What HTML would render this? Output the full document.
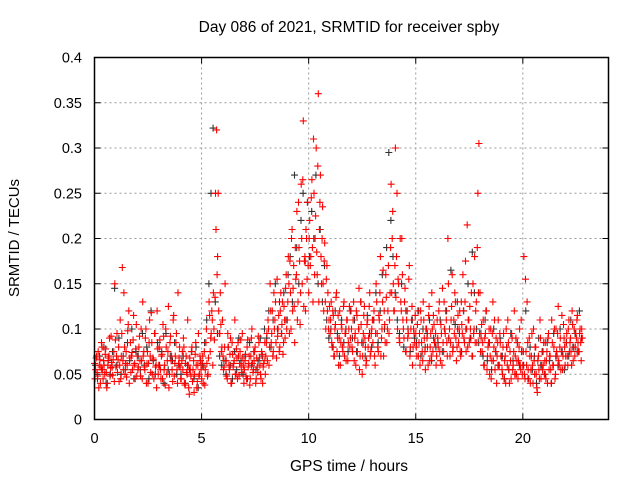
<!DOCTYPE html>
<html><head><meta charset="utf-8"><style>
body{margin:0;background:#fff}
svg{font-family:"Liberation Sans",sans-serif}
</style></head><body>
<svg id="c" width="640" height="480">
<rect width="640" height="480" fill="#fff"/>
<text x="349" y="32" font-size="15.5" text-anchor="middle">Day 086 of 2021, SRMTID for receiver spby</text>
<text x="349" y="471" font-size="15.5" text-anchor="middle">GPS time / hours</text>
<text transform="translate(19,238) rotate(-90)" font-size="15" text-anchor="middle">SRMTID / TECUs</text>
<g id="grid"></g><g id="ticks"></g><g id="marks"></g>
<rect x="94.5" y="57.5" width="514" height="362" fill="none" stroke="#000" stroke-width="1.5"/>
</svg>
<script>
const xTicks=[0,5,10,15,20];
const yTicks=[0,0.05,0.1,0.15,0.2,0.25,0.3,0.35,0.4];
const yTickLabels=["0","0.05","0.1","0.15","0.2","0.25","0.3","0.35","0.4"];
const startA=0,stepA=0.05;
const seriesA=[62,55,70,48,35,66,58,80,45,60,72,52,40,68,90,57,63,49,75,150,
58,95,66,42,110,70,168,55,80,62,47,98,120,68,52,74,88,60,45,105,
70,58,92,48,65,130,75,55,100,62,40,85,70,118,50,66,95,58,35,78,
60,88,45,72,105,55,38,80,65,125,50,92,70,42,115,62,85,55,140,68,
58,45,75,90,40,62,52,110,35,68,48,80,55,30,72,60,42,95,50,65,
45,70,58,38,85,62,50,130,75,95,110,140,88,250,320,180,120,95,105,80,
70,58,150,65,45,80,55,90,40,72,62,110,50,68,85,48,75,58,95,60,
55,72,45,88,62,38,70,100,52,65,80,45,58,92,68,50,75,40,62,85,
70,95,110,60,150,85,120,75,100,130,68,92,115,80,140,105,72,125,90,160,
110,180,95,140,200,120,170,85,155,230,130,190,105,260,150,330,175,120,200,240,
140,220,180,265,130,250,200,300,160,360,210,270,150,235,120,195,100,170,140,110,
95,130,80,115,70,105,140,90,60,120,85,100,75,130,95,65,110,85,125,90,
100,75,130,90,60,115,85,145,70,105,50,95,125,80,65,110,90,140,75,100,
85,120,60,150,95,75,110,180,90,130,70,105,160,85,120,95,140,260,200,150,
120,300,180,100,150,85,130,200,110,90,145,75,120,95,170,80,110,60,100,85,
95,70,120,85,60,110,75,130,90,55,100,80,115,65,95,140,75,105,85,60,
110,80,130,65,95,145,75,100,120,85,200,90,70,110,160,80,95,130,65,100,
85,120,70,105,160,90,130,75,215,110,85,100,140,70,95,180,120,85,250,305,
140,90,75,110,60,95,120,70,85,50,100,65,130,80,55,90,70,110,60,85,
70,50,95,65,40,80,110,55,75,45,90,60,120,70,50,85,65,100,55,75,
60,180,45,75,130,55,90,40,70,60,100,50,80,35,65,55,110,45,75,60,
50,85,65,40,95,70,55,110,60,80,45,100,70,125,60,90,75,55,105,80,
70,95,60,110,85,75,120,65,100,80,90,115,75,95,85,100];
const startB=0.025,stepB=0.05;
const seriesB=[45,68,52,75,60,40,85,55,65,50,78,35,60,70,48,92,58,66,42,88,
70,52,80,60,45,95,65,140,50,75,60,105,40,85,70,55,115,62,78,48,
55,80,65,100,45,70,58,90,40,75,62,110,52,85,68,45,95,60,120,50,
80,55,70,45,92,60,100,50,75,35,85,65,55,110,48,70,95,40,62,80,
45,65,55,80,38,70,50,60,28,55,75,42,65,50,85,35,60,48,70,55,
62,40,75,55,100,48,68,115,90,120,60,100,135,210,160,250,95,140,75,110,
55,80,65,48,95,60,72,40,85,58,65,50,78,45,70,62,88,52,68,40,
65,48,80,58,70,45,90,62,55,75,40,68,52,85,60,45,72,58,65,50,
85,65,100,80,120,95,70,140,110,85,155,100,75,120,95,130,85,110,145,100,
130,150,175,100,210,145,125,190,160,110,240,175,140,200,265,125,180,210,155,170,
200,170,245,190,310,160,225,185,280,130,240,180,200,150,175,130,155,120,100,125,
110,85,120,70,100,135,75,115,90,60,105,80,125,70,95,110,65,100,80,120,
80,110,65,95,120,75,100,55,130,85,70,115,90,60,105,80,125,70,95,110,
110,70,95,130,80,115,140,70,100,165,120,85,135,100,170,110,190,140,230,120,
170,135,250,155,90,200,120,160,100,130,75,110,90,155,70,100,125,80,95,115,
80,105,70,95,120,85,65,110,75,100,90,60,125,80,70,100,115,85,95,70,
90,120,75,105,60,85,130,95,110,70,150,100,85,125,75,110,140,90,80,115,
100,75,130,95,120,85,175,100,80,110,125,90,70,150,100,85,130,190,140,95,
75,105,85,60,90,120,55,80,100,70,45,95,65,110,75,40,85,60,95,70,
55,80,45,70,100,60,85,40,65,95,55,75,50,90,65,45,80,60,110,50,
75,50,155,60,85,45,70,55,95,40,65,80,50,30,70,45,90,60,55,85,
65,45,75,90,55,70,40,85,60,100,50,75,95,65,80,55,115,70,90,60,
85,70,100,75,90,60,105,80,70,95,110,85,75,100,65,90];
const startG=0.04,stepG=0.1;
const seriesG=[60,45,70,55,80,40,65,50,75,145,60,90,50,70,55,85,65,100,45,75,
70,55,95,60,80,45,120,65,50,85,60,75,40,95,55,70,65,85,50,60,
50,70,40,60,55,75,45,80,35,65,60,85,110,150,250,322,130,95,70,60,
65,50,80,60,45,75,55,90,65,50,70,45,85,60,75,55,65,90,70,100,
90,120,80,110,150,100,130,95,140,110,160,180,130,270,190,150,220,250,175,240,
180,230,200,270,150,210,130,170,110,90,100,80,120,95,70,110,85,100,75,120,
90,110,75,100,130,85,70,115,95,80,110,140,85,120,160,100,190,295,220,180,
140,110,95,150,80,120,100,75,110,90,85,120,70,100,80,95,110,65,90,80,
85,110,75,100,120,90,165,80,105,130,95,75,120,100,150,90,185,140,100,85,
95,70,110,65,85,55,100,75,60,90,70,45,80,55,95,65,50,85,60,75,
60,120,45,80,55,70,40,90,60,75,50,85,65,40,95,70,60,100,75,55,
85,70,110,80,95,75,120,90];
const X0=94.5,X1=608.5,Y0=419.5,Y1=57.5;
const xs=v=>X0+(v/24)*(X1-X0);
const ys=v=>Y0-(v/0.4)*(Y0-Y1);
const NS="http://www.w3.org/2000/svg";
function mk(t,a){const e=document.createElementNS(NS,t);for(const k in a)e.setAttribute(k,a[k]);return e;}
const grid=document.getElementById('grid'),ticks=document.getElementById('ticks'),marks=document.getElementById('marks');
xTicks.forEach(t=>{const x=xs(t);
 if(t>0){const g=mk('line',{x1:x,x2:x,y1:Y1,y2:Y0,stroke:'#999','stroke-dasharray':'2,3'});
 
 grid.appendChild(g);}
 const l=mk('text',{x:x,y:443,'font-size':14.5,'text-anchor':'middle'});l.textContent=t;
 
 ticks.appendChild(l);
 ticks.appendChild(mk('line',{x1:x,x2:x,y1:Y0,y2:Y0-6,stroke:'#000'}));
 ticks.appendChild(mk('line',{x1:x,x2:x,y1:Y1,y2:Y1+6,stroke:'#000'}));});
yTicks.forEach((t,i)=>{const y=ys(t);
 if(t>0&&t<0.4){const g=mk('line',{x1:X0,x2:X1,y1:y,y2:y,stroke:'#999','stroke-dasharray':'2,3'});
 
 grid.appendChild(g);}
 const l=mk('text',{x:82,y:y+5,'font-size':14.5,'text-anchor':'end'});l.textContent=yTickLabels[i];
 
 ticks.appendChild(l);
 ticks.appendChild(mk('line',{x1:X0,x2:X0+6,y1:y,y2:y,stroke:'#000'}));
 ticks.appendChild(mk('line',{x1:X1,x2:X1-6,y1:y,y2:y,stroke:'#000'}));});
function plot(arr,start,step,color,name){let d='';
 arr.forEach((v,i)=>{const x=xs(start+i*step),y=ys(v/1000);
  d+=`M${(x-3.5).toFixed(1)} ${y.toFixed(1)}h7M${x.toFixed(1)} ${(y-3.5).toFixed(1)}v7`;});
 const p=mk('path',{d:d,stroke:color,'stroke-width':1.1,fill:'none'});
 
 marks.appendChild(p);}
plot(seriesG,startG,stepG,'#333','series-gray-points');
plot(seriesB,startB,stepB,'#f00','series-red-points-b');
plot(seriesA,startA,stepA,'#f00','series-red-points-a');
</script>
</body></html>
